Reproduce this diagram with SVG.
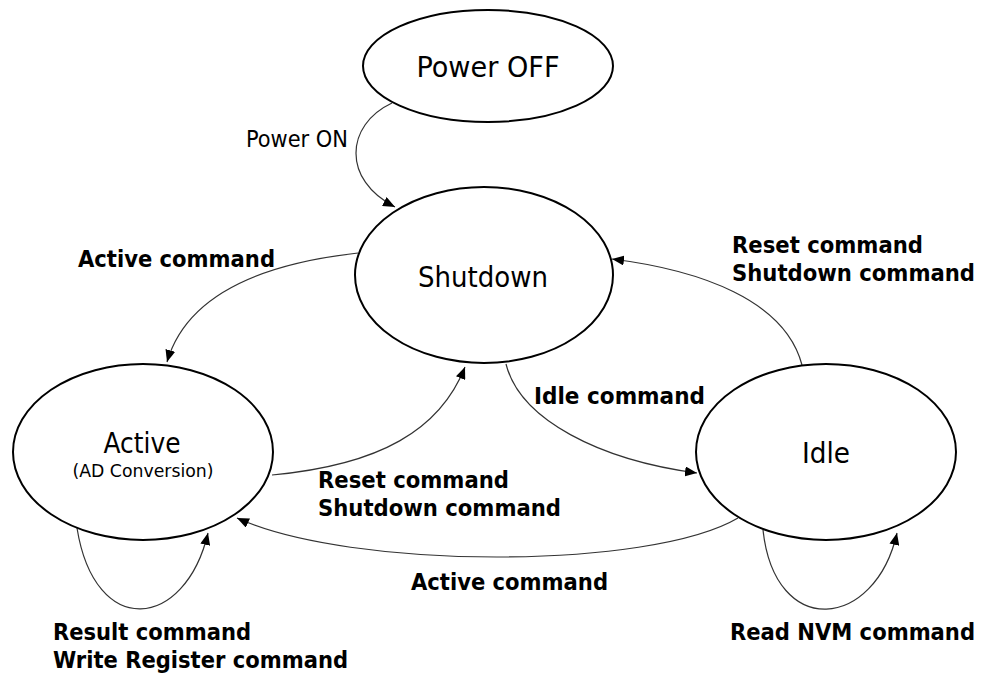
<svg xmlns="http://www.w3.org/2000/svg" width="982" height="675" viewBox="0 0 982 675">
<style>
.node{fill:#fff;stroke:#000;stroke-width:2}
.nl{font-family:"DejaVu Sans Condensed","DejaVu Sans",sans-serif;font-size:29px;fill:#000;text-anchor:middle}
.ns{font-family:"DejaVu Sans Condensed","DejaVu Sans",sans-serif;font-size:18px;fill:#000;text-anchor:middle}
.edge{fill:none;stroke:#333;stroke-width:1.2;marker-end:url(#arr)}
.lb{font-family:"DejaVu Sans Condensed","DejaVu Sans",sans-serif;font-size:23px;font-weight:bold;fill:#000}
.ln{font-family:"DejaVu Sans Condensed","DejaVu Sans",sans-serif;font-size:23px;fill:#000}
</style>
<defs>
<marker id="arr" viewBox="0 0 12 10" refX="12" refY="5" markerWidth="12" markerHeight="10" markerUnits="userSpaceOnUse" orient="auto">
<path d="M0,0 L12,5 L0,10 Z" fill="#000"/>
</marker>
</defs>
<rect width="982" height="675" fill="#fff"/>
<g id="connectors">
<path class="edge" d="M392,103 C345,125 342,180 395,207"/>
<path class="edge" d="M358,253 C250,265 185,300 167,362"/>
<path class="edge" d="M272,475 C380,465 440,430 465,367"/>
<path class="edge" d="M506,364 C520,420 600,460 697,473"/>
<path class="edge" d="M802,365 C785,300 700,270 612,259"/>
<path class="edge" d="M738,518 C650,570 350,570 237,518"/>
<path class="edge" d="M77,528 C95,640 185,630 208,533"/>
<path class="edge" d="M763,530 C775,640 875,630 897,533"/>
</g>
<g id="labels">
<text class="ln" x="246" y="147" textLength="102" lengthAdjust="spacingAndGlyphs">Power ON</text>
<text class="lb" x="78" y="267" textLength="197" lengthAdjust="spacingAndGlyphs">Active command</text>
<text class="lb" x="318" y="488" textLength="191" lengthAdjust="spacingAndGlyphs">Reset command</text>
<text class="lb" x="318" y="516" textLength="243" lengthAdjust="spacingAndGlyphs">Shutdown command</text>
<text class="lb" x="534" y="404" textLength="171" lengthAdjust="spacingAndGlyphs">Idle command</text>
<text class="lb" x="732" y="253" textLength="191" lengthAdjust="spacingAndGlyphs">Reset command</text>
<text class="lb" x="732" y="281" textLength="243" lengthAdjust="spacingAndGlyphs">Shutdown command</text>
<text class="lb" x="411" y="590" textLength="197" lengthAdjust="spacingAndGlyphs">Active command</text>
<text class="lb" x="53" y="640" textLength="198" lengthAdjust="spacingAndGlyphs">Result command</text>
<text class="lb" x="53" y="668" textLength="295" lengthAdjust="spacingAndGlyphs">Write Register command</text>
<text class="lb" x="730" y="640" textLength="245" lengthAdjust="spacingAndGlyphs">Read NVM command</text>
</g>
<g id="power-off"><ellipse class="node" cx="488" cy="66" rx="125" ry="56"/><text class="nl" x="488" y="77" textLength="143" lengthAdjust="spacingAndGlyphs">Power OFF</text></g>
<g id="shutdown"><ellipse class="node" cx="484" cy="275" rx="129" ry="88"/><text class="nl" x="483" y="287" textLength="130" lengthAdjust="spacingAndGlyphs">Shutdown</text></g>
<g id="active"><ellipse class="node" cx="143" cy="452" rx="130" ry="88"/><text class="nl" x="142" y="453" textLength="77" lengthAdjust="spacingAndGlyphs">Active</text><text class="ns" x="143" y="477" textLength="141" lengthAdjust="spacingAndGlyphs">(AD Conversion)</text></g>
<g id="idle"><ellipse class="node" cx="826" cy="452" rx="130" ry="88"/><text class="nl" x="826" y="463" textLength="48" lengthAdjust="spacingAndGlyphs">Idle</text></g>
</svg>
